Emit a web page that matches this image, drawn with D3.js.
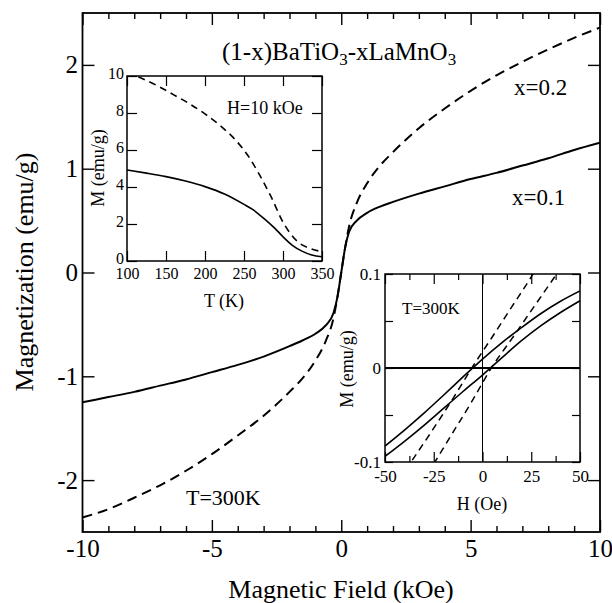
<!DOCTYPE html>
<html>
<head>
<meta charset="utf-8">
<script src="https://cdn.jsdelivr.net/npm/d3@7"></script>
<style>
  body { margin: 0; background: #fff; }
  text { font-family: "Liberation Serif", "Times New Roman", serif; fill: #000; }
</style>
</head>
<body>
<div id="chart"></div>
<script>
// main panel: M(H) at 300 K, field in kOe
var fieldMain = [-10, -9, -8, -7, -6, -5, -4, -3, -2, -1.5, -1, -0.6, -0.3, -0.15, 0, 0.15, 0.3, 0.6, 1, 1.5, 2, 3, 4, 5, 6, 7, 8, 9, 10]
var magX01 = [-1.25, -1.2, -1.15, -1.09, -1.03, -0.96, -0.89, -0.81, -0.71, -0.655, -0.59, -0.51, -0.39, -0.24, 0, 0.24, 0.39, 0.5, 0.575, 0.635, 0.68, 0.76, 0.83, 0.9, 0.96, 1.03, 1.1, 1.18, 1.25]
var magX02 = [-2.36, -2.28, -2.17, -2.05, -1.91, -1.75, -1.57, -1.38, -1.15, -1.02, -0.85, -0.66, -0.44, -0.24, 0, 0.24, 0.44, 0.67, 0.86, 1.03, 1.16, 1.39, 1.58, 1.75, 1.9, 2.03, 2.15, 2.26, 2.36]

// inset 1: M(T) at H = 10 kOe
var tempX01 = [100, 125, 150, 175, 200, 225, 250, 262, 275, 290, 300, 312, 325, 337, 350]
var mtX01 = [4.92, 4.75, 4.56, 4.32, 4.02, 3.62, 3.06, 2.76, 2.32, 1.75, 1.31, 0.85, 0.52, 0.32, 0.23]
var tempX02 = [100, 120, 140, 160, 180, 200, 220, 240, 255, 270, 285, 300, 310, 320, 335, 350]
var mtX02 = [10.15, 9.85, 9.45, 8.98, 8.5, 7.95, 7.3, 6.5, 5.7, 4.65, 3.45, 2.1, 1.45, 1.0, 0.68, 0.5]

// inset 2: low-field loops at 300 K, field in Oe
var loopH01a = [-50, -40, -30, -20, -10, 0, 10, 20, 30, 40, 50]
var loopM01a = [-0.083, -0.066, -0.048, -0.029, -0.0095, 0.0095, 0.027, 0.043, 0.058, 0.071, 0.082]
var loopH01b = [-50, -40, -30, -20, -10, 0, 10, 20, 30, 40, 50]
var loopM01b = [-0.094, -0.078, -0.061, -0.043, -0.025, -0.0075, 0.011, 0.029, 0.045, 0.059, 0.0715]
var loopH02a = [-36, -25, -15, -5.5, 5, 15, 25, 27]
var loopM02a = [-0.098, -0.064, -0.032, 0, 0.033, 0.065, 0.097, 0.104]
var loopH02b = [-25, -15, -5, 4.5, 15, 25, 35, 40]
var loopM02b = [-0.102, -0.068, -0.034, 0, 0.031, 0.061, 0.091, 0.106]

// ticks and labels
var mainXMajor = [-10, -5, 0, 5, 10]
var mainYMajor = [-2, -1, 0, 1, 2]
var in1XTicks = [100, 150, 200, 250, 300, 350]
var in1YTicks = [0, 2, 4, 6, 8, 10]
var in2XMajor = [-50, -25, 0, 25, 50]
var in2XMinor = [-37.5, -12.5, 12.5, 37.5]
var in2YTicks = [-0.1, -0.05, 0, 0.05, 0.1]
var in2YLabels = [-0.1, 0, 0.1]

var W = 612, H = 603

var svg = d3.select("#chart").append("svg")
	.attr("width", W).attr("height", H)

function zip(xs, ys) { return xs.map(function(d, i){ return [d, ys[i]] }) }

function fmt(d) { return String(d) }

// draws frame + inward ticks on all four sides
function frame(g, x, y, opt) {
	var x0 = x.range()[0], x1 = x.range()[1], y0 = y.range()[0], y1 = y.range()[1]
	g.append("rect").attr("x", x0).attr("y", y1)
		.attr("width", x1 - x0).attr("height", y0 - y1)
		.attr("fill", "white").attr("stroke", "black").attr("stroke-width", opt.frameW)

	var mk = function(axis, ticks, size, labels, pad, tx, ty) {
		var a = axis.tickValues(ticks).tickSizeInner(-size).tickSizeOuter(0)
			.tickPadding(pad)
			.tickFormat(function(d){ return labels && labels.indexOf(d) >= 0 ? fmt(d) : "" })
		var s = g.append("g").attr("transform", "translate(" + tx + "," + ty + ")").call(a)
		s.select(".domain").remove()
		s.selectAll("line").attr("stroke", "black").attr("stroke-width", opt.tickW)
		s.selectAll("text").style("font-size", opt.fs + "px").attr("fill", "black")
			.style("font-family", "'Liberation Serif', serif")
		return s
	}
	mk(d3.axisBottom(x), opt.xMajor, opt.majorLen, opt.xLabels, opt.xPad, 0, y0)
	mk(d3.axisTop(x), opt.xMajor, opt.majorLen, null, 0, 0, y1)
	if (opt.xMinor) {
		mk(d3.axisBottom(x), opt.xMinor, opt.minorLen, null, 0, 0, y0)
		mk(d3.axisTop(x), opt.xMinor, opt.minorLen, null, 0, 0, y1)
	}
	var left = mk(d3.axisLeft(y), opt.yMajor, opt.yLen, opt.yLabels, opt.yPad, x0, 0)
	if (opt.yDy) left.selectAll("text").attr("dy", opt.yDy)
	mk(d3.axisRight(y), opt.yMajor, opt.yLen, null, 0, x1, 0)
}

function clip(id, x, y) {
	svg.append("clipPath").attr("id", id).append("rect")
		.attr("x", x.range()[0]).attr("y", y.range()[1])
		.attr("width", x.range()[1] - x.range()[0]).attr("height", y.range()[0] - y.range()[1])
}

function curve(g, x, y, pts, w, dash, clipId) {
	var line = d3.line().x(function(d){ return x(d[0]) }).y(function(d){ return y(d[1]) })
		.curve(d3.curveMonotoneX)
	g.append("path").datum(pts)
		.attr("d", line)
		.attr("fill", "none").attr("stroke", "black")
		.attr("stroke-width", w)
		.attr("stroke-dasharray", dash)
		.attr("clip-path", "url(#" + clipId + ")")
}

// ---------- main panel ----------
var x = d3.scaleLinear().domain([-10, 10]).range([82.5, 600])
var y = d3.scaleLinear().domain([-2.5, 2.5]).range([532, 13])
var gMain = svg.append("g")
frame(gMain, x, y, {
	frameW: 1.8, tickW: 1.4, fs: 25,
	xMajor: mainXMajor, xMinor: d3.range(-9, 10).filter(function(d){ return d % 5 != 0 }),
	xLabels: mainXMajor, xPad: 7, majorLen: 12, minorLen: 6,
	yMajor: mainYMajor, yLabels: mainYMajor, yPad: 4.5, yLen: 12
})
clip("clipMain", x, y)
curve(gMain, x, y, zip(fieldMain, magX01), 2, null, "clipMain")
curve(gMain, x, y, zip(fieldMain, magX02), 2, "10,6", "clipMain")

svg.append("text").attr("x", 341).attr("y", 598)
	.attr("text-anchor", "middle").style("font-size", "26px")
	.text("Magnetic Field (kOe)")
svg.append("text").attr("transform", "translate(33,272) rotate(-90)")
	.attr("text-anchor", "middle").style("font-size", "26px")
	.text("Magnetization (emu/g)")

var title = svg.append("text").attr("x", 222).attr("y", 60).style("font-size", "25px")
title.append("tspan").text("(1-x)BaTiO")
title.append("tspan").attr("dy", 5).style("font-size", "17px").text("3")
title.append("tspan").attr("dy", -5).text("-xLaMnO")
title.append("tspan").attr("dy", 5).style("font-size", "17px").text("3")

svg.append("text").attr("x", 514).attr("y", 95).style("font-size", "23px").text("x=0.2")
svg.append("text").attr("x", 512).attr("y", 205).style("font-size", "23px").text("x=0.1")
svg.append("text").attr("x", 186).attr("y", 505).style("font-size", "22px").text("T=300K")

// ---------- inset 1: M vs T ----------
var x1 = d3.scaleLinear().domain([100, 350]).range([127, 322])
var y1 = d3.scaleLinear().domain([0, 10]).range([261, 76])
var gIn1 = svg.append("g")
frame(gIn1, x1, y1, {
	frameW: 1.5, tickW: 1.2, fs: 16,
	xMajor: in1XTicks, xLabels: in1XTicks, xPad: 7, majorLen: 10,
	yMajor: in1YTicks, yLabels: in1YTicks, yPad: 3, yLen: 10, yDy: "0.15em"
})
clip("clipIn1", x1, y1)
curve(gIn1, x1, y1, zip(tempX01, mtX01), 1.6, null, "clipIn1")
curve(gIn1, x1, y1, zip(tempX02, mtX02), 1.6, "7,5", "clipIn1")
svg.append("text").attr("x", 227).attr("y", 114).style("font-size", "18px").text("H=10 kOe")
svg.append("text").attr("x", 224).attr("y", 307).attr("text-anchor", "middle")
	.style("font-size", "18px").text("T (K)")
svg.append("text").attr("transform", "translate(104,168) rotate(-90)")
	.attr("text-anchor", "middle").style("font-size", "18px").text("M (emu/g)")

// ---------- inset 2: low-field loops ----------
var x2 = d3.scaleLinear().domain([-50, 50]).range([385, 580])
var y2 = d3.scaleLinear().domain([-0.1, 0.1]).range([462, 274])
var gIn2 = svg.append("g")
frame(gIn2, x2, y2, {
	frameW: 1.5, tickW: 1.2, fs: 17,
	xMajor: in2XMajor, xMinor: in2XMinor, xLabels: in2XMajor, xPad: 8, majorLen: 10, minorLen: 6,
	yMajor: in2YTicks, yLabels: in2YLabels, yPad: 4, yLen: 8
})
clip("clipIn2", x2, y2)
gIn2.append("line").attr("x1", x2(0)).attr("x2", x2(0)).attr("y1", y2(-0.1)).attr("y2", y2(0.1))
	.attr("stroke", "black").attr("stroke-width", 1)
gIn2.append("line").attr("x1", x2(-50)).attr("x2", x2(50)).attr("y1", y2(0)).attr("y2", y2(0))
	.attr("stroke", "black").attr("stroke-width", 2)
curve(gIn2, x2, y2, zip(loopH01a, loopM01a), 1.6, null, "clipIn2")
curve(gIn2, x2, y2, zip(loopH01b, loopM01b), 1.6, null, "clipIn2")
curve(gIn2, x2, y2, zip(loopH02a, loopM02a), 1.5, "7,5", "clipIn2")
curve(gIn2, x2, y2, zip(loopH02b, loopM02b), 1.5, "7,5", "clipIn2")
svg.append("text").attr("x", 402).attr("y", 314).style("font-size", "17px").text("T=300K")
svg.append("text").attr("x", 482).attr("y", 510).attr("text-anchor", "middle")
	.style("font-size", "18px").text("H (Oe)")
svg.append("text").attr("transform", "translate(353,369) rotate(-90)")
	.attr("text-anchor", "middle").style("font-size", "18px").text("M (emu/g)")
</script>
</body>
</html>
